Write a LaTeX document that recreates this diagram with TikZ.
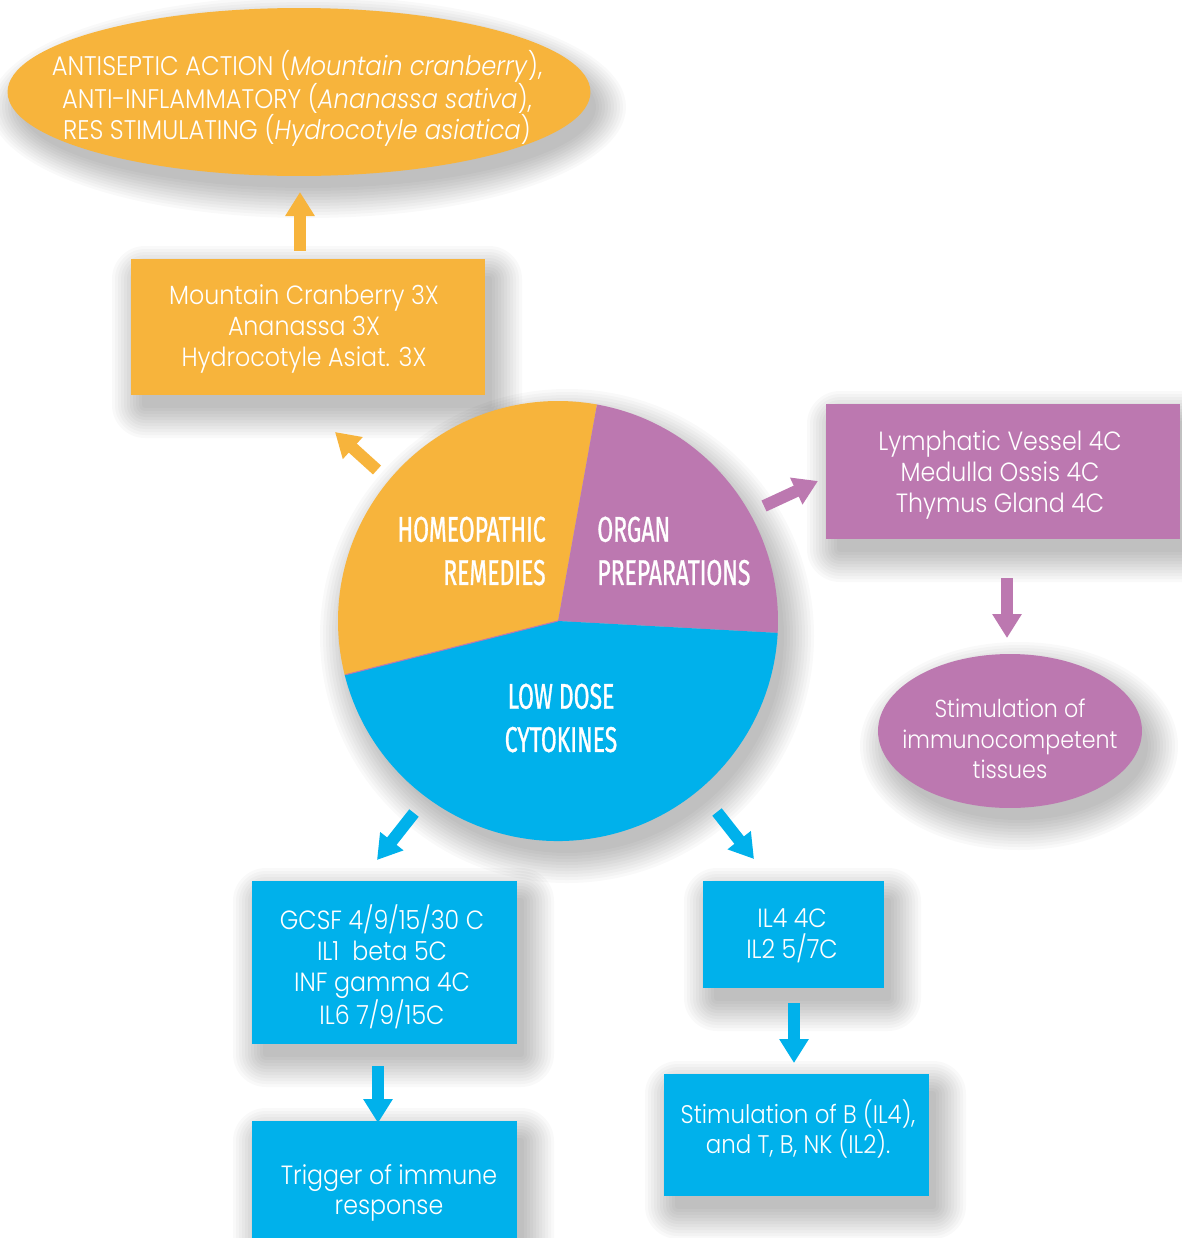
\documentclass[tikz,border=0pt]{standalone}
\usepackage{fontspec}
\setmainfont{Poppins}[UprightFont=* Light, ItalicFont=* Light Italic, FakeStretch=0.9]
\newfontfamily\condf{Fira Sans}[FakeStretch=0.64, FakeBold=0.8]
\usetikzlibrary{arrows.meta,shapes.geometric,calc}
\definecolor{cor}{HTML}{F7B43C}
\definecolor{cpu}{HTML}{BC78B0}
\definecolor{cbl}{HTML}{00B1EB}
\newcommand\boxshadow[4]{%
  \foreach \k in {1,...,11}{%
    \fill[black,opacity=0.022,rounded corners=\k*0.06cm] ({#1+14-\k*3},{#2+20-\k*3}) rectangle ({#3+4+\k*3},{#4+10+\k*3});}}
\newcommand\ellshadow[4]{%
  \foreach \k in {1,...,11}{%
    \fill[black,opacity=0.022] ({#1+9},{#2+15}) ellipse [x radius={#3-6+\k*3}, y radius={#4-6+\k*3}];}}
\tikzset{
  txt/.style={text=white, align=center, inner sep=0pt, font=\fontsize{15}{17.5}\selectfont},
  pietxt/.style={text=white, inner sep=0pt, font=\condf\fontsize{20.4}{24.6}\selectfont},
  boxshape/.style={rectangle, draw=none, inner sep=0pt},
  barr/.style={line width=0.24cm, -{Triangle[length=0.48cm,width=0.56cm]}},
}
\begin{document}
\begin{tikzpicture}[x=0.02cm,y=-0.02cm]
\useasboundingbox (0,0) rectangle (1182,1238);
\clip (0,0) rectangle (1182,1238);
\fill[white] (0,0) rectangle (1182,1238);

% shadows
\ellshadow{299}{92}{291}{84}
\boxshadow{131}{259}{485}{395}
\boxshadow{826}{404}{1180}{539}
\ellshadow{1010}{731}{132}{77}
\ellshadow{558}{621}{220}{220}
\boxshadow{252}{881}{517}{1044}
\boxshadow{252}{1121}{517}{1262}
\boxshadow{703}{881}{884}{988}
\boxshadow{664}{1074}{929}{1196}

% top ellipse
\node[ellipse, fill=cor, minimum width=11.66cm, minimum height=3.36cm, inner sep=0pt] (topell) at (299,92) {};
\node[txt, font=\fontsize{15.3}{17.3}\selectfont] (topelltxt) at (297,98) {ANTISEPTIC ACTION (\textit{Mountain cranberry}),\\ANTI-INFLAMMATORY (\textit{Ananassa sativa}),\\RES STIMULATING (\textit{Hydrocotyle asiatica})};

% orange box
\node[boxshape, fill=cor, minimum width=7.08cm, minimum height=2.72cm] (obox) at (308,327) {};
\node[txt] (oboxtxt) at (304,329) {Mountain Cranberry 3X\\Ananassa 3X\\Hydrocotyle Asiat. 3X};

% purple box
\node[boxshape, fill=cpu, minimum width=7.08cm, minimum height=2.7cm] (pbox) at (1003,471.5) {};
\node[txt] (pboxtxt) at (1000,475) {Lymphatic Vessel 4C\\Medulla Ossis 4C\\Thymus Gland 4C};

% purple ellipse
\node[ellipse, fill=cpu, minimum width=5.28cm, minimum height=3.08cm, inner sep=0pt] (pell) at (1010,731) {};
\node[txt, font=\fontsize{14}{17.5}\selectfont] (pelltxt) at (1010,739) {Stimulation of\\immunocompetent\\tissues};

% blue boxes
\node[boxshape, fill=cbl, minimum width=5.3cm, minimum height=3.26cm] (bbox1) at (384.5,962.5) {};
\node[txt] (bbox1txt) at (382,967) {GCSF 4/9/15/30 C\\IL1\ \ beta 5C\\INF gamma 4C\\IL6 7/9/15C};
\node[boxshape, fill=cbl, minimum width=5.3cm, minimum height=2.82cm] (bbox3) at (384.5,1191.5) {};
\node[txt] (bbox3txt) at (389,1193) {Trigger of immune\\response};
\node[boxshape, fill=cbl, minimum width=3.62cm, minimum height=2.14cm] (bbox2) at (793.5,934.5) {};
\node[txt] (bbox2txt) at (792,936) {IL4 4C\\IL2 5/7C};
\node[boxshape, fill=cbl, minimum width=5.3cm, minimum height=2.44cm] (bbox4) at (796.5,1135) {};
\node[txt, font=\fontsize{14.5}{17.5}\selectfont] (bbox4txt) at (798,1129) {Stimulation of B (IL4),\\and T, B, NK (IL2).};

% pie
\coordinate (piec) at (558,621);
\begin{scope}[shift={(558,621)}, y=0.02cm]
  \fill[cor] (0,0) -- (79.8:220) arc[start angle=79.8, end angle=194.2, radius=220] -- cycle;
  \fill[cpu] (0,0) -- (-3.1:220) arc[start angle=-3.1, end angle=79.8, radius=220] -- cycle;
  \fill[cbl] (0,0) -- (194.2:220) arc[start angle=194.2, end angle=356.9, radius=220] -- cycle;
  \draw[cpu, line width=0.6pt] (0,0) -- (194.2:219);
\end{scope}
\node[pietxt, align=right, anchor=east] (homtxt) at (546,551) {HOMEOPATHIC\\REMEDIES};
\node[pietxt, align=left, anchor=west] (orgtxt) at (597,551) {ORGAN\\PREPARATIONS};
\node[pietxt, align=center] (ldctxt) at (561,718) {LOW DOSE\\CYTOKINES};

% arrow end points
\coordinate (a1s) at (300,251); \coordinate (a1e) at (300,192);
\coordinate (a2s) at (377,470); \coordinate (a2e) at (335,432);
\coordinate (a3s) at (764,506); \coordinate (a3e) at (818,481);
\coordinate (a4s) at (1007,578); \coordinate (a4e) at (1007,638);
\coordinate (a5s) at (414,813); \coordinate (a5e) at (377,860);
\coordinate (a6s) at (717,812); \coordinate (a6e) at (754,859);
\coordinate (a7s) at (378,1066); \coordinate (a7e) at (378,1123);
\coordinate (a8s) at (794,1003); \coordinate (a8e) at (794,1063);

\draw[barr, cor] (a1s) -- (a1e);
\draw[barr, cor] (a2s) -- (a2e);
\draw[barr, cpu] (a3s) -- (a3e);
\draw[barr, cpu] (a4s) -- (a4e);
\draw[barr, cbl] (a5s) -- (a5e);
\draw[barr, cbl] (a6s) -- (a6e);
\draw[barr, cbl] (a7s) -- (a7e);
\draw[barr, cbl] (a8s) -- (a8e);
\end{tikzpicture}
\end{document}
